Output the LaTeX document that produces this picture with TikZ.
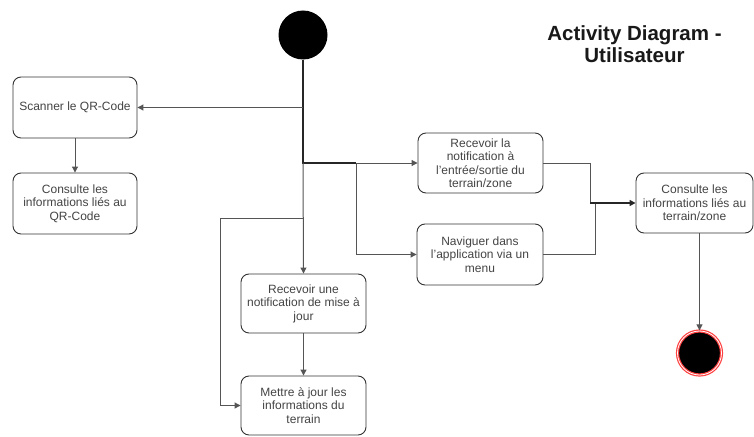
\documentclass[tikz,border=0pt]{standalone}
\usepackage{fontspec}
\setmainfont{Liberation Sans}
\usetikzlibrary{arrows.meta}
\definecolor{boxline}{HTML}{333333}
\definecolor{txt}{HTML}{444444}
\definecolor{wire}{HTML}{555555}
\definecolor{endring}{HTML}{FF4040}
\tikzset{
  act/.style={draw=boxline, line width=0.9pt, rounded corners=8pt, fill=white,
    align=center, text=txt, inner sep=1pt,
    font=\fontsize{12}{13.5}\selectfont},
  wirethin/.style={draw=wire, line width=1pt},
  wirethick/.style={draw=black!85, line width=1.8pt},
  tip/.style={-{Triangle[length=6pt,width=6pt]}},
}
\begin{document}
\begin{tikzpicture}[x=1pt,y=-1pt]
\useasboundingbox (0,0) rectangle (754,436);

% title
\node[font=\bfseries\fontsize{20.5}{22}\selectfont, align=center, text=black!90] (title) at (634.5,44)
  {Activity Diagram -\\Utilisateur};

% start and end states
\node[circle, fill=black, minimum size=49pt, inner sep=0pt] (start) at (303,35) {};
\node[circle, fill=black, draw=endring, line width=1.2pt, double=white, double distance=0.8pt,
  minimum size=44pt, inner sep=0pt] (end) at (699.5,353) {};

% activities
\node[act, minimum width=124pt, minimum height=61pt] (scan) at (75,107.5) {Scanner le QR-Code};
\node[act, minimum width=124pt, minimum height=61pt] (cqr) at (75,203.5)
  {Consulte les\\informations liés au\\QR-Code};
\node[act, minimum width=125pt, minimum height=60pt] (rnz) at (480.5,163)
  {Recevoir la\\notification à\\l'entrée/sortie du\\terrain/zone};
\node[act, minimum width=126pt, minimum height=61pt] (nav) at (480,254.5)
  {Naviguer dans\\l'application via un\\menu};
\node[act, minimum width=117pt, minimum height=60pt] (cterr) at (694.5,203)
  {Consulte les\\informations liés au\\terrain/zone};
\node[act, minimum width=125pt, minimum height=59pt] (rmaj) at (303.5,303.5)
  {Recevoir une\\notification de mise à\\jour};
\node[act, minimum width=125pt, minimum height=59pt] (maj) at (303.5,405.5)
  {Mettre à jour les\\informations du\\terrain};

% junction points on the trunk
\coordinate (jscan) at (303,107.5);
\coordinate (jfork) at (303,163);
\coordinate (jsplit) at (356,163);
\coordinate (jmaj) at (303,218);
\coordinate (jmerge) at (590,203);

% trunk from the start state
\draw[wirethick] (start.south) -- (jfork) -- (jsplit);
\draw[wirethin, tip] (jfork) -- (rmaj.north);
\draw[wirethin, tip] (jscan) -- (scan.east);
\draw[wirethin, tip] (scan.south) -- (cqr.north);

% fork to the zone notification and the menu
\draw[wirethin, tip] (jsplit) -- (rnz.west);
\draw[wirethin, tip] (jsplit) |- (nav.west);

% update branch
\draw[wirethin, tip] (jmaj) -- (220,218) |- (maj.west);
\draw[wirethin, tip] (rmaj.south) -- (maj.north);

% merge into the zone details
\draw[wirethin] (rnz.east) -| (jmerge);
\draw[wirethin] (nav.east) -| (595,203) -- (jmerge);
\draw[wirethick, -{Triangle[length=6pt,width=6pt]}] (jmerge) -- (cterr.west);
\draw[wirethin, tip] (cterr.south -| end) -- (end.north);
\end{tikzpicture}
\end{document}
